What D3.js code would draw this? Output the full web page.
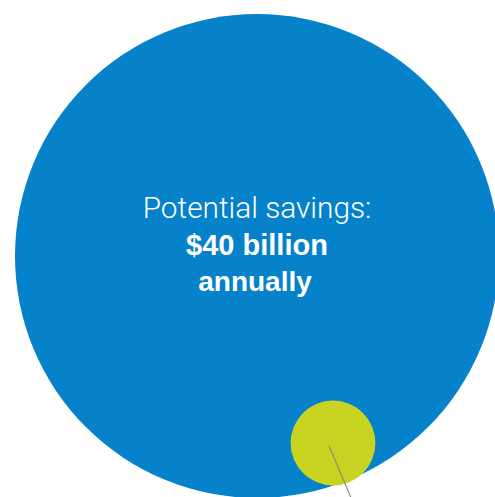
<!DOCTYPE html>
<html><head><meta charset="utf-8">
<script src="https://cdn.jsdelivr.net/npm/d3@7"></script>
<style>html,body{margin:0;padding:0;background:#fff;}svg{display:block;}</style>
</head><body>
<script>
// Data
const bubbleNames = ["Potential savings", "Detail"];
const bubbleValues = [40, 1.23];          // $ billion
const labelLines = ["Potential savings:", "$40 billion", "annually"];

const W = 495, H = 497;
const svg = d3.select("body").append("svg").attr("width", W).attr("height", H);

const r = d3.scaleSqrt().domain([0, 40]).range([0, 242]);
const layout = [{cx: 257, cy: 256}, {cx: 333, cy: 443}];
const colors = ["#0582C9", "#C8D421"];

const nodes = bubbleNames.map((n, i) => ({name: n, value: bubbleValues[i], ...layout[i], color: colors[i]}));

svg.selectAll("circle.b").data(nodes).join("circle")
  .attr("class", "b")
  .attr("cx", d => d.cx).attr("cy", d => d.cy)
  .attr("r", d => r(d.value))
  .attr("fill", d => d.color);

// leader line from small bubble
svg.append("line")
  .attr("x1", 329).attr("y1", 446).attr("x2", 352).attr("y2", 500)
  .attr("stroke", "#858a80").attr("stroke-width", 1.1);

const styles = [
  {size: 29.8, weight: 300, y: 218},
  {size: 29, weight: 700, y: 255},
  {size: 28, weight: 700, y: 291}
];
svg.selectAll("text.lab").data(labelLines).join("text")
  .attr("class", "lab")
  .attr("x", (d, i) => i === 2 ? 255 : 257).attr("y", (d, i) => styles[i].y)
  .attr("text-anchor", "middle")
  .attr("fill", "#fff")
  .style("font-family", (d, i) => i === 0 ? "Roboto, 'Liberation Sans', sans-serif" : "'Liberation Sans', Arial, sans-serif")
  .style("font-weight", (d, i) => styles[i].weight)
  .style("font-size", (d, i) => styles[i].size + "px")
  .text(d => d);
</script>
</body></html>
